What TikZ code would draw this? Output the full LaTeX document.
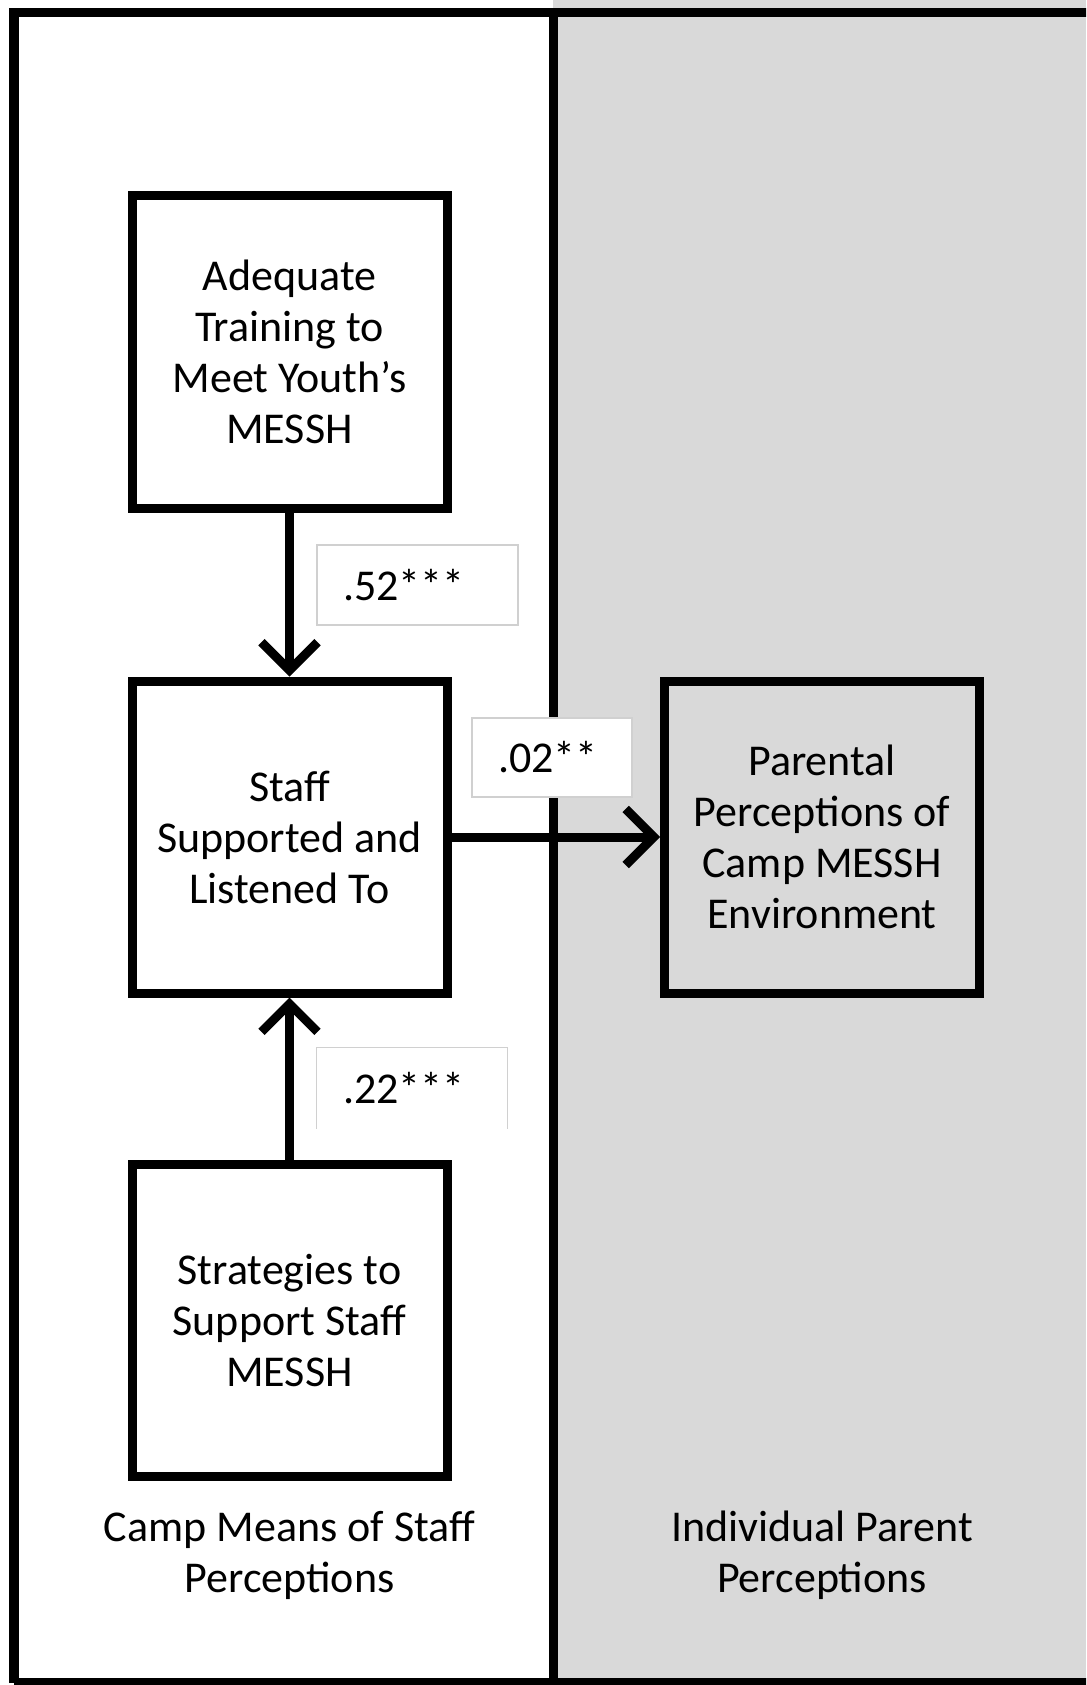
\documentclass[tikz,border=0pt]{standalone}
\usepackage{fontspec}
\setmainfont{Carlito}
\usetikzlibrary{arrows.meta}
\definecolor{panelgray}{HTML}{D9D9D9}
\definecolor{lblborder}{HTML}{D0D0D0}
\tikzset{
  varbox/.style={draw=black, line width=9pt, minimum width=315pt, minimum height=312pt,
    inner sep=0pt, align=center, font=\fontsize{44}{51}\selectfont},
  lblbox/.style={fill=white, draw=lblborder, line width=1.2pt, inner ysep=0pt,
    inner xsep=26pt, align=left, font=\fontsize{44}{51}\selectfont},
  paneltext/.style={align=center, font=\fontsize{44}{51}\selectfont},
  conn/.style={line width=9pt, -{Straight Barb[length=28pt, width=56pt, line width=9pt]}},
}
\begin{document}
\begin{tikzpicture}[x=1pt, y=-1pt]
\useasboundingbox (0,0) rectangle (1086,1685);
\clip (0,0) rectangle (1086,1685);
% panels
\fill[panelgray] (553,0) rectangle (1086,1685);
\draw[line width=9pt] (553,12.5) -- (553,1685);
\draw[line width=9.5pt] (14,1683) -- (14,12.5) -- (1100,12.5);
\draw[line width=9.5pt] (14,1683) -- (1100,1683);
% coefficient labels
\node[lblbox, minimum width=201pt, minimum height=80pt, text width=149pt] (l52) at (417.5,585) {.52***};
\node[lblbox, minimum width=160pt, minimum height=79pt, text width=108pt] (l02) at (552,757.5) {.02**};
\node[lblbox, draw=none, minimum width=190pt, minimum height=80pt, text width=138pt] (l22) at (412,1088) {.22***};
\draw[lblborder, line width=1.2pt] (l22.south west) -- (l22.north west) -- (l22.north east) -- (l22.south east);
% variable boxes
\node[varbox, fill=white] (train) at (289.5,352) {Adequate\\Training to\\Meet Youth’s\\MESSH};
\node[varbox, fill=white] (staff) at (289.5,837) {Staff\\Supported and\\Listened To};
\node[varbox, fill=white] (strat) at (289.5,1320) {Strategies to\\Support Staff\\MESSH};
\node[varbox, fill=panelgray] (parent) at (822,837) {Parental\\Perceptions of\\Camp MESSH\\Environment};
% connectors
\draw[conn] (train.south) -- (staff.north);
\draw[conn] (strat.north) -- (staff.south);
\draw[conn] (staff.east) -- (parent.west);
% panel captions
\node[paneltext] (capL) at (289.5,1555) {Camp Means of Staff\\Perceptions};
\node[paneltext] (capR) at (822,1555) {Individual Parent\\Perceptions};
\end{tikzpicture}
\end{document}
